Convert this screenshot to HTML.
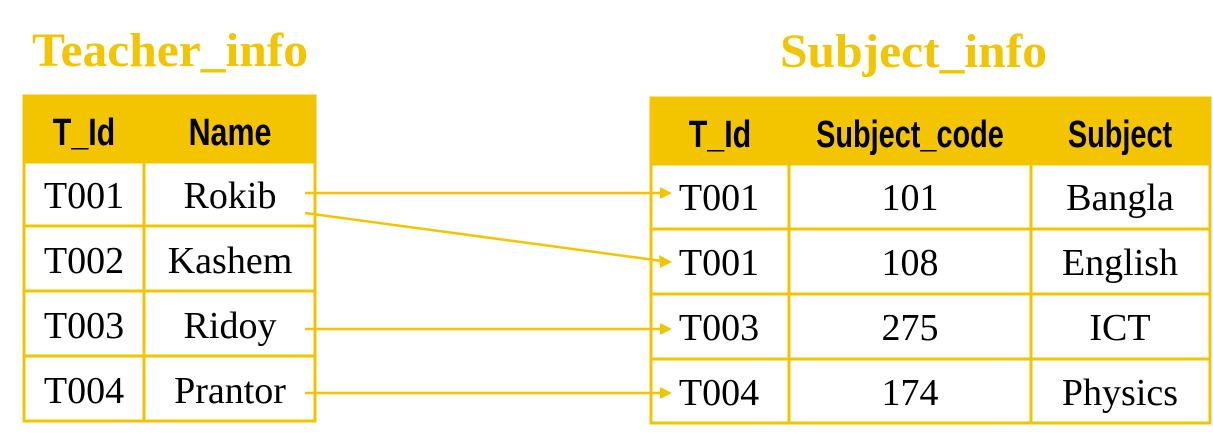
<!DOCTYPE html>
<html><head><style>body{margin:0;background:#fff}svg{display:block}</style></head><body>
<svg width="1213" height="441" viewBox="0 0 1213 441" xmlns="http://www.w3.org/2000/svg">
<g font-family="Liberation Serif, serif" font-weight="bold" fill="#f2c500" font-size="48">
<text x="32" y="66" textLength="276" lengthAdjust="spacingAndGlyphs">Teacher_info</text>
<text x="780" y="67" textLength="267" lengthAdjust="spacingAndGlyphs">Subject_info</text>
</g>
<rect x="23" y="95" width="293" height="67" fill="#f2c500"/>
<g stroke="#f2c500" stroke-width="3" fill="none">
<rect x="24" y="96" width="291" height="325"/>
<line x1="144" y1="96" x2="144" y2="421"/>
<line x1="24" y1="162" x2="315" y2="162"/>
<line x1="24" y1="226" x2="315" y2="226"/>
<line x1="24" y1="291" x2="315" y2="291"/>
<line x1="24" y1="356" x2="315" y2="356"/>
</g>
<rect x="650" y="97" width="561" height="67" fill="#f2c500"/>
<g stroke="#f2c500" stroke-width="3" fill="none">
<rect x="651" y="98" width="559" height="325"/>
<line x1="789" y1="98" x2="789" y2="423"/>
<line x1="1031" y1="98" x2="1031" y2="423"/>
<line x1="651" y1="164" x2="1210" y2="164"/>
<line x1="651" y1="229" x2="1210" y2="229"/>
<line x1="651" y1="294" x2="1210" y2="294"/>
<line x1="651" y1="359" x2="1210" y2="359"/>
</g>
<g font-family="Liberation Sans Narrow, Liberation Sans, sans-serif" font-weight="bold" font-size="38" fill="#000" text-anchor="middle">
<text x="84" y="145" transform="translate(84 0) scale(0.8 1) translate(-84 0)">T_Id</text>
<text x="230" y="145" transform="translate(230 0) scale(0.8 1) translate(-230 0)">Name</text>
<text x="720" y="147" transform="translate(720 0) scale(0.8 1) translate(-720 0)">T_Id</text>
<text x="910" y="147" transform="translate(910 0) scale(0.76 1) translate(-910 0)">Subject_code</text>
<text x="1120" y="147" transform="translate(1120 0) scale(0.76 1) translate(-1120 0)">Subject</text>
</g>
<g font-family="Liberation Serif, serif" font-size="38" fill="#000" text-anchor="middle">
<text x="84" y="208">T001</text><text x="230" y="208">Rokib</text>
<text x="84" y="273">T002</text><text x="230" y="273">Kashem</text>
<text x="84" y="338">T003</text><text x="230" y="338">Ridoy</text>
<text x="84" y="403">T004</text><text x="230" y="403">Prantor</text>
<text x="719" y="210">T001</text><text x="910" y="210">101</text><text x="1120" y="210">Bangla</text>
<text x="719" y="275">T001</text><text x="910" y="275">108</text><text x="1120" y="275">English</text>
<text x="719" y="340">T003</text><text x="910" y="340">275</text><text x="1120" y="340">ICT</text>
<text x="719" y="405">T004</text><text x="910" y="405">174</text><text x="1120" y="405">Physics</text>
</g>
<g stroke="#f2c500" stroke-width="2.5">
<line x1="305" y1="193" x2="662" y2="193"/>
<line x1="305" y1="213" x2="662" y2="261"/>
<line x1="305" y1="329" x2="662" y2="329"/>
<line x1="305" y1="393" x2="662" y2="393"/>
</g>
<g fill="#f2c500">
<polygon points="660,187 672,193 660,199"/>
<polygon points="659,255 672,262 660,268"/>
<polygon points="660,323 672,329 660,335"/>
<polygon points="660,387 672,393 660,399"/>
</g>
</svg>
</body></html>
